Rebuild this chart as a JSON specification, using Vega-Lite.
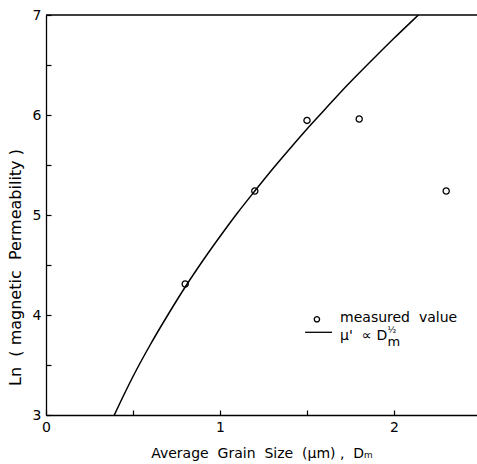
{
  "$schema": "https://vega.github.io/schema/vega-lite/v6.json",
  "width": 431,
  "height": 400,
  "autosize": {"type": "none"},
  "padding": {"left": 46, "top": 15, "right": 0, "bottom": 49},
  "background": "white",
  "config": {
    "view": {"stroke": null},
    "font": "DejaVu Sans",
    "axis": {
      "domainColor": "black", "domainWidth": 1.3, "tickColor": "black", "tickWidth": 1.2,
      "labelColor": "black", "titleColor": "black", "labelFont": "DejaVu Sans", "titleFont": "DejaVu Sans",
      "labelFontSize": 14, "titleFontSize": 14, "titleFontWeight": "normal", "grid": false
    }
  },
  "datasets": {
    "curve": [
      {"d": 0.39, "ln": 2.99}, {"d": 0.45, "ln": 3.21}, {"d": 0.5, "ln": 3.385}, {"d": 0.6, "ln": 3.705},
      {"d": 0.7, "ln": 4.0}, {"d": 0.8, "ln": 4.28}, {"d": 0.9, "ln": 4.54}, {"d": 1.0, "ln": 4.785},
      {"d": 1.1, "ln": 5.02}, {"d": 1.2, "ln": 5.24}, {"d": 1.3, "ln": 5.455}, {"d": 1.4, "ln": 5.66},
      {"d": 1.5, "ln": 5.86}, {"d": 1.6, "ln": 6.05}, {"d": 1.7, "ln": 6.24}, {"d": 1.8, "ln": 6.42},
      {"d": 1.9, "ln": 6.595}, {"d": 2.0, "ln": 6.767}, {"d": 2.1, "ln": 6.934}, {"d": 2.14, "ln": 7.0}
    ],
    "measured": [
      {"d": 0.8, "ln": 4.31}, {"d": 1.2, "ln": 5.24}, {"d": 1.5, "ln": 5.946},
      {"d": 1.8, "ln": 5.96}, {"d": 2.3, "ln": 5.24}
    ],
    "legendText": [
      {"d": 1.69, "ln": 3.967, "t": "measured\u00a0\u00a0value", "size": 14},
      {"d": 1.69, "ln": 3.79, "t": "μ'\u00a0\u00a0∝", "size": 14},
      {"d": 1.9, "ln": 3.79, "t": "D", "size": 14},
      {"d": 1.963, "ln": 3.735, "t": "m", "size": 13},
      {"d": 1.963, "ln": 3.852, "t": "½", "size": 9}
    ],
    "legendPoint": [{"d": 1.557, "ln": 3.957}],
    "legendLine": [{"d": 1.489, "ln": 3.827}, {"d": 1.644, "ln": 3.827}],
    "topBorder": [{"ln": 7}]
  },
  "layer": [
    {
      "data": {"name": "curve"},
      "mark": {"type": "line", "color": "black", "strokeWidth": 1.5, "clip": true, "interpolate": "monotone"},
      "encoding": {
        "x": {"field": "d", "type": "quantitative",
          "scale": {"domain": [0, 2.477], "nice": false, "zero": false},
          "axis": {"title": "Average\u00a0\u00a0Grain\u00a0\u00a0Size\u00a0\u00a0(μm)\u00a0,\u00a0\u00a0Dₘ", "values": [0, 0.5, 1, 1.5, 2],
            "labelExpr": "datum.value % 1 == 0 ? format(datum.value, 'd') : ''", "tickSize": -5,
            "labelPadding": 10, "titlePadding": 12, "labelFlush": false}},
        "y": {"field": "ln", "type": "quantitative",
          "scale": {"domain": [3, 7], "nice": false, "zero": false},
          "axis": {"title": "Ln\u00a0\u00a0(\u00a0magnetic\u00a0\u00a0Permeability\u00a0)", "values": [3, 3.5, 4, 4.5, 5, 5.5, 6, 6.5, 7],
            "labelExpr": "datum.value % 1 == 0 ? format(datum.value, 'd') : ''", "tickSize": -5,
            "labelPadding": 10, "titleY": 252, "titleX": -23, "titleFontSize": 16, "labelFlush": false}}
      }
    },
    {
      "data": {"name": "topBorder"},
      "mark": {"type": "rule", "color": "black", "strokeWidth": 1.3},
      "encoding": {
        "y": {"field": "ln", "type": "quantitative"}
      }
    },
    {
      "data": {"name": "measured"},
      "mark": {"type": "point", "shape": "circle", "filled": false, "color": "black", "size": 38, "strokeWidth": 1.3, "opacity": 1},
      "encoding": {
        "x": {"field": "d", "type": "quantitative"},
        "y": {"field": "ln", "type": "quantitative"}
      }
    },
    {
      "data": {"name": "legendPoint"},
      "mark": {"type": "point", "shape": "circle", "filled": false, "color": "black", "size": 28, "strokeWidth": 1.3, "opacity": 1},
      "encoding": {
        "x": {"field": "d", "type": "quantitative"},
        "y": {"field": "ln", "type": "quantitative"}
      }
    },
    {
      "data": {"name": "legendLine"},
      "mark": {"type": "line", "color": "black", "strokeWidth": 1.3},
      "encoding": {
        "x": {"field": "d", "type": "quantitative"},
        "y": {"field": "ln", "type": "quantitative"}
      }
    },
    {
      "data": {"name": "legendText"},
      "mark": {"type": "text", "align": "left", "baseline": "middle", "color": "black", "font": "DejaVu Sans"},
      "encoding": {
        "x": {"field": "d", "type": "quantitative"},
        "y": {"field": "ln", "type": "quantitative"},
        "text": {"field": "t"},
        "size": {"field": "size", "type": "quantitative", "scale": null}
      }
    }
  ]
}
